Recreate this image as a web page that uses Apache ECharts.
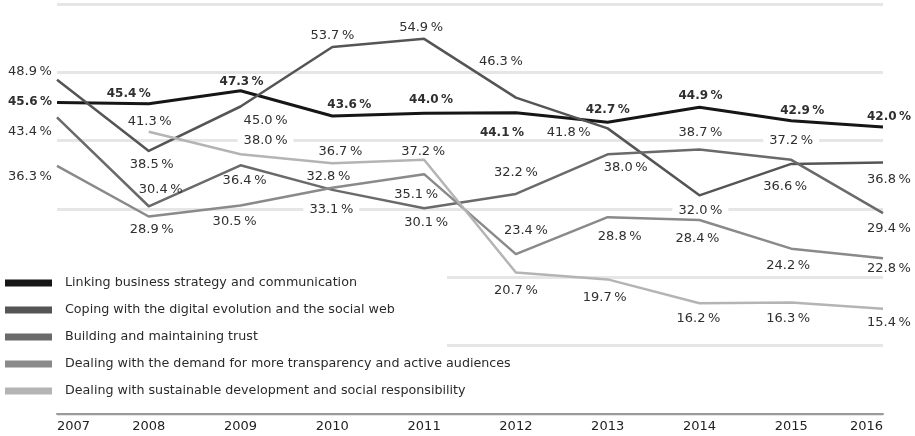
<!DOCTYPE html>
<html>
<head>
<meta charset="utf-8">
<title>Communication issues 2007–2016</title>
<script src="https://cdn.jsdelivr.net/npm/echarts@6/dist/echarts.min.js"></script>
<style>
  html, body { margin: 0; padding: 0; background: #fff; }
  #chart { width: 915px; height: 436px; }
</style>
</head>
<body>
<div id="chart"></div>
<script>
// Years on the category axis
const years = ['2007', '2008', '2009', '2010', '2011', '2012', '2013', '2014', '2015', '2016'];

// Series names (legend order)
const seriesNames = [
  'Linking business strategy and communication',
  'Coping with the digital evolution and the social web',
  'Building and maintaining trust',
  'Dealing with the demand for more transparency and active audiences',
  'Dealing with sustainable development and social responsibility'
];

// Shares in percent per year
const linking        = [45.6, 45.4, 47.3, 43.6, 44.0, 44.1, 42.7, 44.9, 42.9, 42.0];
const digital        = [48.9, 38.5, 45.0, 53.7, 54.9, 46.3, 41.8, 32.0, 36.6, 36.8];
const trust          = [43.4, 30.4, 36.4, 32.8, 30.1, 32.2, 38.0, 38.7, 37.2, 29.4];
const transparency   = [36.3, 28.9, 30.5, 33.1, 35.1, 23.4, 28.8, 28.4, 24.2, 22.8];
const sustainability = [null, 41.3, 38.0, 36.7, 37.2, 20.7, 19.7, 16.2, 16.3, 15.4];

// Value-label placement relative to each point (dx, dy in px)
const linkingLabelShift = [[-27,-1],[-20,-10],[1,-9],[17,-11],[7,-13],[-14,20],[0,-12],[1,-11],[11,-10],[6,-10]];
const digitalLabelShift = [[-27,-8],[3,14],[25,14],[0,-11],[-3,-11],[-15,-36],[-39,4],[1,15],[-6,23],[6,17]];
const trustLabelShift   = [[-27,14],[12,-17],[4,15],[-4,-13],[2,14],[0,-21],[18,13],[1,-17],[0,-19],[6,16]];
const transpLabelShift  = [[-27,11],[3,13],[-6,16],[-1,22],[-8,20],[10,-23],[12,19],[-2,19],[-3,17],[6,10]];
const sustainLabelShift = [null,[1,-10],[25,-14],[8,-12],[-1,-8],[0,18],[-3,18],[-1,15],[-3,16],[6,14]];

// Labels that sit on a gridline get a white backing ("series:point")
const backedLabels = ['1:7', '2:8', '3:3', '4:2'];

const lineColors = ['#161616', '#555555', '#6a6a6a', '#8a8a8a', '#b4b4b4'];
const lineWidths = [3, 2.5, 2.5, 2.5, 2.5];
const FONT = '"DejaVu Sans", "Liberation Sans", Arial, sans-serif';

function pct(v) {
  return v.toFixed(1) + '\u2009%';
}

function buildData(sIdx, values, shifts) {
  return values.map(function (v, i) {
    if (v == null) return '-';
    const label = { offset: shifts[i] };
    if (backedLabels.indexOf(sIdx + ':' + i) >= 0) {
      label.backgroundColor = '#ffffff';
      label.padding = [0, 6];
    }
    return { value: v, label: label };
  });
}

function makeSeries(idx, values, shifts, bold) {
  return {
    name: seriesNames[idx],
    type: 'line',
    data: buildData(idx, values, shifts),
    symbol: 'circle',
    symbolSize: 2,
    showSymbol: true,
    connectNulls: false,
    itemStyle: { color: 'rgba(0,0,0,0)' },
    lineStyle: { color: lineColors[idx], width: lineWidths[idx], join: 'round' },
    emphasis: { disabled: true },
    label: {
      show: true,
      position: 'inside',
      formatter: function (p) { return pct(p.value); },
      color: '#2f2f2f',
      fontFamily: FONT,
      fontSize: bold ? 12 : 13,
      fontWeight: bold ? 'bold' : 'normal',
      lineHeight: 14
    },
    z: 2 + idx
  };
}

const chart = echarts.init(document.getElementById('chart'), null, { renderer: 'canvas' });

chart.setOption({
  animation: false,
  backgroundColor: '#ffffff',
  grid: { left: 57, right: 32, top: 4, bottom: 22, containLabel: false },
  xAxis: {
    type: 'category',
    data: years,
    boundaryGap: false,
    axisLine: { show: true, lineStyle: { color: '#9a9a9a', width: 2 } },
    axisTick: { show: false },
    axisLabel: {
      color: '#222',
      fontFamily: FONT,
      fontSize: 13,
      margin: 6,
      alignMinLabel: 'left',
      alignMaxLabel: 'right'
    },
    splitLine: { show: false }
  },
  yAxis: {
    type: 'value',
    min: 0,
    max: 60,
    interval: 10,
    axisLine: { show: false },
    axisTick: { show: false },
    axisLabel: { show: false },
    splitLine: { show: true, lineStyle: { color: '#e6e6e6', width: 3 } }
  },
  legend: {
    orient: 'vertical',
    left: 5,
    top: 276,
    padding: 0,
    z: 10,
    icon: 'rect',
    itemWidth: 47,
    itemHeight: 7,
    itemGap: 13,
    selectedMode: false,
    data: seriesNames.map(function (n, i) {
      return { name: n, itemStyle: { color: lineColors[i] } };
    }),
    textStyle: {
      color: '#2a2a2a',
      fontFamily: FONT,
      fontSize: 12.7,
      lineHeight: 14,
      padding: [0, 0, 0, 8]
    }
  },
  // White panel behind the legend: the lower gridlines start right of it
  graphic: {
    elements: [{
      type: 'rect',
      left: 0,
      top: 266,
      z: 5,
      shape: { width: 447, height: 92 },
      style: { fill: '#ffffff' },
      silent: true
    }]
  },
  series: [
    makeSeries(0, linking, linkingLabelShift, true),
    makeSeries(1, digital, digitalLabelShift, false),
    makeSeries(2, trust, trustLabelShift, false),
    makeSeries(3, transparency, transpLabelShift, false),
    makeSeries(4, sustainability, sustainLabelShift, false)
  ]
});
</script>
</body>
</html>
